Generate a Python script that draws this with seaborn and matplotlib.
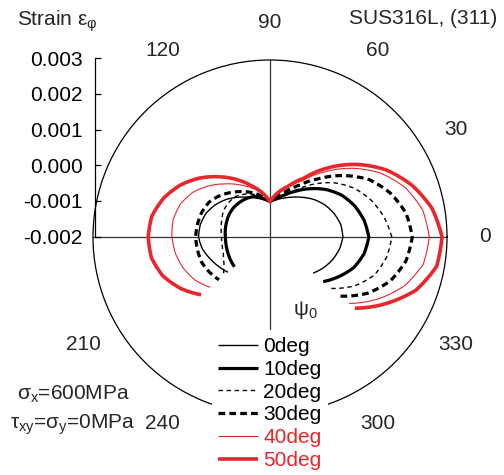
import numpy as np
import matplotlib
matplotlib.use("Agg")
import matplotlib.pyplot as plt
import seaborn as sns

sns.set_theme(style="white")
plt.rcParams["font.family"] = ["Liberation Sans", "DejaVu Sans"]
plt.rcParams["mathtext.fontset"] = "custom"
plt.rcParams["mathtext.rm"] = "Liberation Sans"
plt.rcParams["mathtext.it"] = "Liberation Sans"
plt.rcParams["axes.unicode_minus"] = False

angle_deg = [-40, -30, -20, -10, 0, 10, 20, 30, 40, 50, 60, 70, 80, 90,
             100, 110, 120, 130, 140, 150, 160, 170, 180, 190, 200, 210, 220]

strain_0 = [-0.00041, -0.00026, -0.00012, -0.00001, 0.00006, 0.00003, -0.00007,
            -0.00020, -0.00036, -0.00054, -0.00070, -0.00083, -0.00093, -0.00100,
            -0.00093, -0.00083, -0.00070, -0.00054, -0.00036, -0.00020, -0.00007,
            0.00000, 0.00002, -0.00006, -0.00020, -0.00033, -0.00045]
strain_10 = [-0.00004, 0.00024, 0.00052, 0.00070, 0.00079, 0.00070, 0.00055,
             0.00035, 0.00008, -0.00022, -0.00050, -0.00073, -0.00090, -0.00100,
             -0.00090, -0.00078, -0.00073, -0.00070, -0.00068, -0.00068, -0.00070,
             -0.00072, -0.00074, -0.00074, -0.00073, -0.00071, -0.00069]
strain_20 = [0.00026, 0.00076, 0.00114, 0.00134, 0.00144, 0.00127, 0.00104,
             0.00075, 0.00038, -0.00005, -0.00045, -0.00072, -0.00090, -0.00100,
             -0.00088, -0.00072, -0.00060, -0.00050, -0.00048, -0.00049, -0.00055,
             -0.00060, -0.00063, -0.00063, -0.00060, -0.00050, -0.00030]
strain_30 = [0.00060, 0.00118, 0.00162, 0.00190, 0.00202, 0.00190, 0.00162,
             0.00124, 0.00070, 0.00015, -0.00030, -0.00062, -0.00084, -0.00100,
             -0.00085, -0.00068, -0.00052, -0.00035, -0.00017, -0.00002, 0.00005,
             0.00008, 0.00010, 0.00008, 0.00006, -0.00002, -0.00012]
strain_40 = [0.00092, 0.00151, 0.00204, 0.00240, 0.00250, 0.00238, 0.00207,
             0.00161, 0.00102, 0.00040, -0.00016, -0.00050, -0.00075, -0.00100,
             -0.00076, -0.00053, -0.00030, -0.00004, 0.00025, 0.00052, 0.00070,
             0.00078, 0.00077, 0.00071, 0.00060, 0.00044, 0.00021]
strain_50 = [0.00113, 0.00177, 0.00239, 0.00278, 0.00286, 0.00265, 0.00227,
             0.00179, 0.00119, 0.00055, -0.00008, -0.00047, -0.00073, -0.00100,
             -0.00073, -0.00046, -0.00013, 0.00022, 0.00059, 0.00093, 0.00120,
             0.00139, 0.00144, 0.00140, 0.00122, 0.00091, 0.00054]

curve_labels = ["0deg", "10deg", "20deg", "30deg", "40deg", "50deg"]
curve_strains = [strain_0, strain_10, strain_20, strain_30, strain_40, strain_50]

strain_ticks = [-0.002, -0.001, 0.0, 0.001, 0.002, 0.003]
angle_labels = [0, 30, 60, 90, 120, 210, 240, 300, 330]

RED = "#e8262b"
FS = 15
styles = [
    dict(color="black", linewidth=1.0, linestyle="-"),
    dict(color="black", linewidth=2.3, linestyle="-"),
    dict(color="black", linewidth=1.0, linestyle=(0, (3.2, 2.6))),
    dict(color="black", linewidth=2.3, linestyle=(0, (2.1, 1.3))),
    dict(color=RED, linewidth=0.8, linestyle="-"),
    dict(color=RED, linewidth=2.6, linestyle="-"),
]

W, H = 504, 475


def fx(px):
    return px / W


def fy(py):
    return 1 - py / H


fig = plt.figure(figsize=(W / 100, H / 100), dpi=100, facecolor="white")

# polar plot: centre at (270, 237) px, radius 177 px
R_PX = 177
ax = fig.add_axes([fx(270 - R_PX), fy(237 + R_PX), 2 * R_PX / W, 2 * R_PX / H],
                  projection="polar")
ax.set_facecolor("none")
ax.set_rlim(-0.002, 0.003)
ax.grid(False)
ax.set_xticks([])
ax.set_yticks([])
ax.spines["polar"].set_linewidth(0.9)
ax.spines["polar"].set_color("black")

# axis cross
axis_kw = dict(color="#333333", linewidth=0.9, zorder=1)
ax.plot([0, 0], [-0.002, 0.003], **axis_kw)
ax.plot([np.pi, np.pi], [-0.002, 0.003], **axis_kw)
ax.plot([np.pi / 2, np.pi / 2], [-0.002, 0.003], **axis_kw)
ax.plot([1.5 * np.pi, 1.5 * np.pi], [-0.002, 0.0006], **axis_kw)

theta = np.deg2rad(angle_deg)
curve_lines = []
for lab, strain, st in zip(curve_labels, curve_strains, styles):
    sns.lineplot(x=theta, y=np.array(strain), ax=ax, sort=False, estimator=None,
                 legend=False, label=lab, solid_capstyle="butt", **st)
    curve_lines.append(ax.lines[-1])
ax.set_xlabel("")
ax.set_ylabel("")

# draw the segments along the polar grid (spiral), not as straight chords
for ln in curve_lines:
    ln.get_path()._interpolation_steps = 12

for a in angle_labels:
    ax.text(np.deg2rad(a), 0.00407, str(a), ha="center", va="center", fontsize=FS)

# left strain scale
ax2 = fig.add_axes([fx(95), fy(236.5), 0.02, 178.2 / H])
ax2.set_facecolor("none")
ax2.set_ylim(-0.002, 0.003)
ax2.set_yticks(strain_ticks)
ax2.set_yticklabels([f"{v:.3f}" for v in strain_ticks])
ax2.set_xticks([])
for s in ["top", "right", "bottom"]:
    ax2.spines[s].set_visible(False)
ax2.spines["left"].set_color("black")
ax2.spines["left"].set_linewidth(0.9)
ax2.tick_params(axis="y", left=True, direction="in", length=4, width=0.9,
                pad=9, labelsize=FS, colors="black")

# texts
fig.text(fx(17), fy(21), "Strain ε$_φ$", fontsize=FS, ha="left", va="center")
fig.text(fx(497), fy(18), "SUS316L, (311)", fontsize=FS, ha="right", va="center")
fig.text(fx(293), fy(310), "ψ$_0$", fontsize=FS, ha="left", va="center")
fig.text(fx(17), fy(394), "σ$_x$=600MPa", fontsize=FS, ha="left", va="center")
fig.text(fx(10), fy(425), "τ$_{xy}$=σ$_y$=0MPa", fontsize=FS, ha="left", va="center")

# legend
handles, labels = ax.get_legend_handles_labels()
leg = fig.legend(handles, labels, loc="upper left",
                 bbox_to_anchor=(fx(212), fy(331)), fontsize=FS,
                 frameon=True, facecolor="white", edgecolor="none", framealpha=1,
                 fancybox=False, borderpad=0.3, borderaxespad=0,
                 handlelength=1.9, handletextpad=0.25, labelspacing=0.18)
for t, st in zip(leg.get_texts(), styles):
    t.set_color(st["color"])

fig.savefig("out.png", dpi=100, facecolor="white")
